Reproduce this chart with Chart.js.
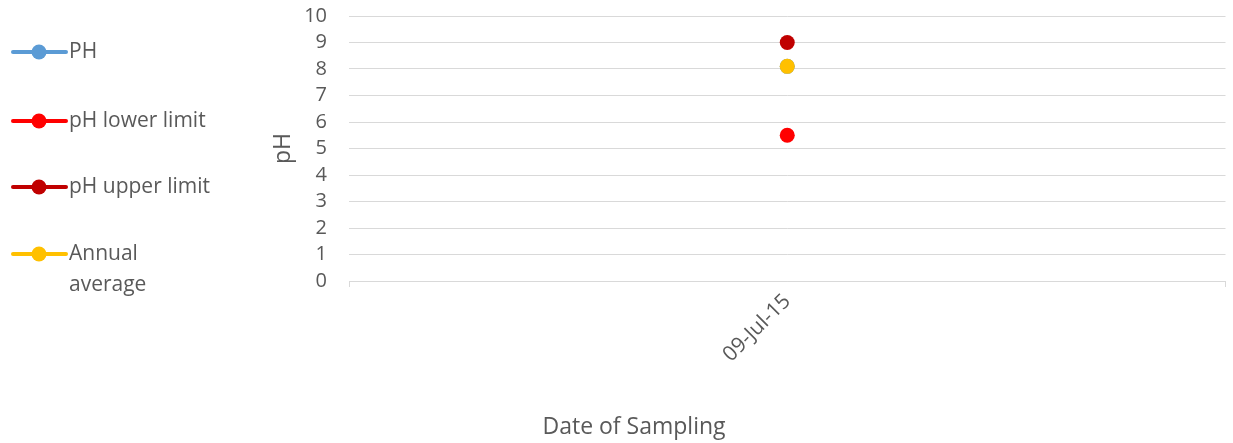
<!DOCTYPE html>
<html><head><meta charset="utf-8">
<script src="https://cdn.jsdelivr.net/npm/chart.js@4"></script>
<style>html,body{margin:0;padding:0;background:#fff}#wrap{width:1233px;height:443px}</style>
</head><body><div id="wrap"><canvas id="c" width="1233" height="443"></canvas></div>
<script>
const categories = ["09-Jul-15"];
const seriesNames = ["PH", "pH lower limit", "pH upper limit", "Annual average"];
const phValues = [8.1];
const lowerLimit = [5.5];
const upperLimit = [9];
const annualAverage = [8.1];
const yTicks = [0,1,2,3,4,5,6,7,8,9,10];
const colors = ["#5B9BD5", "#FF0000", "#C00000", "#FFC000"];
const FONT = "'Open Sans', sans-serif";
const TXT = "#595959";

const legendPlugin = {
  id: 'sideLegend',
  afterDraw(chart) {
    const ctx = chart.ctx;
    const ys = [52, 121, 187, 254];
    const labels = [["PH"], ["pH lower limit"], ["pH upper limit"], ["Annual", "average"]];
    ctx.save();
    ys.forEach((y, i) => {
      ctx.strokeStyle = colors[i]; ctx.lineWidth = 4; ctx.lineCap = 'round';
      ctx.beginPath(); ctx.moveTo(13, y); ctx.lineTo(66, y); ctx.stroke();
      ctx.fillStyle = colors[i];
      ctx.beginPath(); ctx.arc(39, y, 7.5, 0, Math.PI*2); ctx.fill();
      ctx.fillStyle = TXT; ctx.font = "21px " + FONT; ctx.textBaseline = 'middle'; ctx.textAlign = 'left';
      labels[i].forEach((t, j) => ctx.fillText(t, 69, y + j*31));
    });
    ctx.font = "23px " + FONT; ctx.textAlign = 'center'; ctx.textBaseline = 'middle';
    ctx.fillText("Date of Sampling", 634, 427);
    ctx.restore();
  }
};

const mk = (name, data, c, ord) => ({
  label: name, data, borderColor: c, backgroundColor: c, order: ord,
  pointRadius: 7.5, pointHoverRadius: 7.5, borderWidth: 0, showLine: false
});

new Chart(document.getElementById('c'), {
  type: 'line',
  data: {
    labels: categories,
    datasets: [
      mk(seriesNames[0], phValues, colors[0], 3),
      mk(seriesNames[1], lowerLimit, colors[1], 2),
      mk(seriesNames[2], upperLimit, colors[2], 1),
      mk(seriesNames[3], annualAverage, colors[3], 0)
    ]
  },
  options: {
    responsive: false, animation: false,
    layout: { padding: { left: 270, right: 1, top: 4, bottom: 0 } },
    plugins: { legend: { display: false }, tooltip: { enabled: false } },
    scales: {
      x: {
        offset: true,
        grid: { offset: true, drawOnChartArea: false, drawTicks: true, tickLength: 6, color: '#D9D9D9' },
        border: { color: '#D9D9D9' },
        ticks: { color: TXT, font: { family: FONT, size: 21 }, maxRotation: 45, minRotation: 45, padding: 2 },
        afterFit: s => { s.height = 162; }
      },
      y: {
        min: 0, max: 10,
        afterBuildTicks: s => { s.ticks = yTicks.map(v => ({ value: v })); },
        grid: { color: '#D9D9D9', drawTicks: true, tickLength: 18, tickColor: 'rgba(0,0,0,0)' },
        border: { display: false },
        ticks: { color: TXT, font: { family: FONT, size: 20 }, padding: 4, autoSkip: false },
        title: { display: true, text: 'pH', color: TXT, font: { family: FONT, size: 23 }, padding: 0 },
        afterFit: s => { s.width = 79; }
      }
    }
  },
  plugins: [legendPlugin]
});
</script></body></html>
